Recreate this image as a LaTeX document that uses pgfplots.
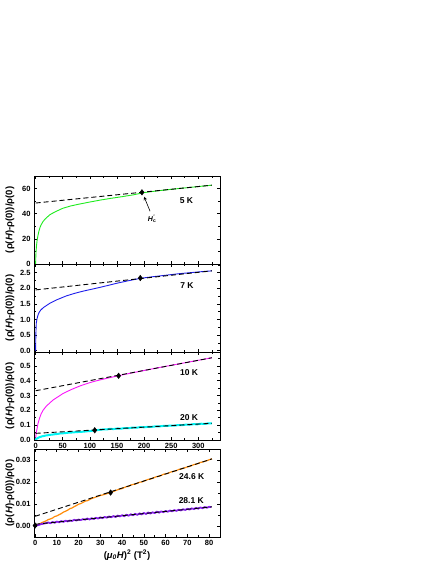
\documentclass[border=0pt]{standalone}
\usepackage{fontspec}
\setmainfont{Liberation Sans}
\usepackage{pgfplots}
\pgfplotsset{compat=1.18}

\definecolor{cgreen}{RGB}{30,235,30}
\definecolor{cblue}{RGB}{30,30,235}
\definecolor{cmag}{RGB}{250,20,250}
\definecolor{ccyan}{RGB}{0,245,245}
\definecolor{corange}{RGB}{255,140,10}
\definecolor{cpurple}{RGB}{135,30,235}

\newcommand{\ylab}{(ρ(\textit{H})-ρ(0))/ρ(0)}

\tikzset{lab/.style={font=\bfseries\fontsize{8.5}{9}\selectfont}}
\pgfplotsset{
  panel/.style={
    scale only axis, width=186pt, height=88pt,
    axis line style={line width=0.9pt},
    tick style={black, line width=0.7pt},
    major tick length=3pt, minor tick length=2.2pt,
    tick align=inside, xtick pos=both, ytick pos=both,
    /pgf/number format/assume math mode=true,
    ticklabel style={font=\bfseries\fontsize{7.5}{8}\selectfont},
    scaled y ticks=false,
    ylabel={\ylab},
    every axis y label/.style={at={(axis description cs:0,0.5)}, xshift=-24pt,
      rotate=90, anchor=center, font=\bfseries\fontsize{9.5}{10}\selectfont},
    every axis x label/.style={at={(axis description cs:0.5,0)}, yshift=-18pt,
      anchor=center, font=\bfseries\fontsize{9.5}{10}\selectfont},
  },
  hx/.style={xmin=-3, xmax=340, xtick={0,50,100,150,200,250,300},
    minor xtick={25,75,125,175,225,275,325}},
  fit/.style={black, line width=0.9pt, dash pattern=on 5pt off 3pt},
  dia/.style={only marks, mark=diamond*, mark size=2.8pt, black},
}

\begin{document}
\begin{tikzpicture}
\useasboundingbox (0,0) rectangle (436pt,564pt);

% 5 K
\begin{axis}[panel, hx, at={(34pt,300pt)}, anchor=south west,
  ymin=0, ymax=70, ytick={0,20,40,60}, minor ytick={10,30,50,70},
  xticklabels={}]
\addplot[cgreen, line width=0.9pt] coordinates {
(0,0)(0.3,5)(0.8,10)(1.5,14)(2.5,18)(4,22)(6,26)(8,29)(10,31)(13.5,33.7)(18,36)
(26,39.1)(35,41.3)(50,44.3)(65,46.2)(80,47.6)(100,49.3)(120,50.9)(140,52.3)
(160,53.6)(180,55)(200,56.8)(225,58.2)(250,59.4)(275,60.5)(300,61.6)(325,62.7)};
\addplot[fit] coordinates {(0,48.5)(325,62.7)};
\addplot[dia] coordinates {(196,57.0)};
\draw[-stealth, line width=0.6pt] (axis cs:211,42) -- (axis cs:200,53.5);
\node[font=\bfseries\fontsize{7}{8}\selectfont] at (axis cs:215,36) {\textit{H}\rlap{\textsuperscript{\textit{'}}}\textsubscript{c}};
\node[lab] at (axis cs:278,50.4) {5 K};
\end{axis}

% 7 K
\begin{axis}[panel, hx, at={(34pt,212pt)}, anchor=south west,
  ymin=-0.04, ymax=2.78, ytick={0,0.5,1,1.5,2,2.5}, minor ytick={0.25,0.75,1.25,1.75,2.25,2.75},
  yticklabel style={/pgf/number format/fixed, /pgf/number format/fixed zerofill, /pgf/number format/precision=1},
  xticklabels={}]
\addplot[cblue, line width=0.9pt] coordinates {
(0,0)(0.2,0.3)(0.5,0.55)(1.2,0.88)(2.5,1.02)(4.3,1.14)(6.5,1.23)(9.3,1.30)(14,1.38)
(20,1.45)(26,1.52)(40,1.64)(57,1.76)(72,1.84)(87.6,1.91)(103,1.97)(118.5,2.03)
(135,2.10)(149,2.16)(170,2.24)(193,2.32)(215,2.37)(240,2.42)(265,2.47)(290,2.51)
(310,2.54)(325,2.56)};
\addplot[fit] coordinates {(0,1.95)(325,2.56)};
\addplot[dia] coordinates {(193,2.33)};
\node[lab] at (axis cs:279,2.1) {7 K};
\end{axis}

% 10 K and 20 K
\begin{axis}[panel, hx, at={(34pt,124pt)}, anchor=south west,
  ymin=0, ymax=0.595, ytick={0,0.1,0.2,0.3,0.4,0.5}, minor ytick={0.05,0.15,0.25,0.35,0.45,0.55},
  yticklabel style={/pgf/number format/fixed, /pgf/number format/fixed zerofill, /pgf/number format/precision=1}]
\addplot[cmag, line width=0.9pt] coordinates {
(0,0)(0.5,0.03)(1.2,0.05)(2.5,0.075)(4.3,0.11)(7,0.145)(10,0.175)(13.5,0.20)(20,0.23)
(32,0.27)(50,0.313)(65,0.34)(81.5,0.365)(100,0.388)(112,0.40)(130,0.416)(152,0.434)
(174,0.451)(200,0.470)(225,0.488)(250,0.505)(275,0.522)(300,0.539)(325,0.556)};
\addplot[ccyan, line width=2pt] coordinates {
(0,0)(1,0.006)(2,0.009)(3,0.011)(4,0.014)(5,0.015)(7,0.019)(9,0.021)(12,0.025)(15,0.027)
(18,0.030)(22,0.032)(26,0.035)(30,0.036)(35,0.039)(40,0.041)(45,0.044)(50,0.045)
(55,0.047)(60,0.049)(65,0.050)(70,0.052)(75,0.053)(81,0.055)(88,0.056)(95,0.059)
(102,0.061)(109,0.065)(116,0.068)(123,0.071)(130,0.071)(137,0.075)(144,0.074)(151,0.078)
(158,0.077)(165,0.081)(172,0.080)(179,0.084)(186,0.083)(193,0.087)(200,0.086)(207,0.089)
(214,0.089)(221,0.092)(228,0.092)(235,0.095)(242,0.095)(249,0.098)(256,0.097)(263,0.101)
(270,0.100)(277,0.104)(284,0.103)(291,0.107)(298,0.106)(305,0.110)(312,0.109)(319,0.113)(325,0.112)};
\addplot[fit] coordinates {(0,0.333)(325,0.556)};
\addplot[fit] coordinates {(0,0.045)(325,0.113)};
\addplot[dia] coordinates {(153,0.434)(109,0.066)};
\node[lab] at (axis cs:283,0.455) {10 K};
\node[lab] at (axis cs:283,0.151) {20 K};
\end{axis}

% 24.6 K and 28.1 K
\begin{axis}[panel, at={(34pt,27pt)}, anchor=south west,
  xmin=-0.5, xmax=85, xtick={0,10,20,30,40,50,60,70,80}, minor xtick={5,15,25,35,45,55,65,75},
  ymin=-0.005, ymax=0.035, ytick={0,0.01,0.02,0.03}, minor ytick={-0.005,0.005,0.015,0.025},
  yticklabel style={/pgf/number format/fixed, /pgf/number format/fixed zerofill, /pgf/number format/precision=2},
  xlabel={(\textit{μ\textsubscript{0}H})\textsuperscript{2} (T\textsuperscript{2})}]
\addplot[corange, line width=1.2pt] coordinates {
(0,0.0000)(1,0.0004)(2,0.0009)(3,0.0015)(4,0.0019)(5,0.0023)(6,0.0029)(7,0.0032)(8,0.0036)
(9,0.0043)(10,0.0046)(11,0.0051)(12,0.0056)(13,0.0063)(14,0.0067)(15,0.0072)(16,0.0079)
(17,0.0082)(18,0.0088)(19,0.0093)(20,0.0099)(21,0.0102)(22,0.0107)(23,0.0113)(24,0.0115)
(25,0.0120)(26,0.0125)(27,0.0128)(28,0.0132)(29,0.0135)(30,0.0139)(31,0.0141)(32,0.0144)
(33,0.0147)(34,0.0150)(35,0.0153)(36,0.0157)(37,0.0161)(38,0.0165)(39,0.0168)(40,0.0170)
(41,0.0175)(42,0.0179)(43,0.0180)(44,0.0186)(45,0.0189)(46,0.0190)(47,0.0195)(48,0.0199)
(49,0.0200)(50,0.0204)(51,0.0208)(52,0.0212)(53,0.0213)(54,0.0217)(55,0.0221)(56,0.0225)
(57,0.0226)(58,0.0230)(59,0.0235)(60,0.0237)(61,0.0239)(62,0.0244)(63,0.0247)(64,0.0249)
(65,0.0252)(66,0.0257)(67,0.0259)(68,0.0262)(69,0.0265)(70,0.0269)(71,0.0271)(72,0.0275)
(73,0.0279)(74,0.0281)(75,0.0284)(76,0.0289)(77,0.0291)(78,0.0294)(79,0.0297)(80,0.0301)(81.3,0.0305)};
\addplot[cpurple, line width=1.8pt] coordinates {
(0,0.0000)(1,0.0003)(2,0.0006)(3,0.0009)(4,0.0011)(5,0.0013)(6,0.0016)(7,0.0013)(8,0.0018)
(9,0.0015)(10,0.0020)(11,0.0017)(12,0.0022)(13,0.0019)(14,0.0024)(15,0.0021)(16,0.0025)
(17,0.0023)(18,0.0028)(19,0.0025)(20,0.0029)(21,0.0027)(22,0.0031)(23,0.0029)(24,0.0034)
(25,0.0030)(26,0.0035)(27,0.0032)(28,0.0037)(29,0.0034)(30,0.0039)(31,0.0036)(32,0.0041)
(33,0.0038)(34,0.0043)(35,0.0040)(36,0.0045)(37,0.0041)(38,0.0047)(39,0.0044)(40,0.0049)
(41,0.0045)(42,0.0051)(43,0.0047)(44,0.0053)(45,0.0049)(46,0.0055)(47,0.0051)(48,0.0057)
(49,0.0053)(50,0.0059)(51,0.0055)(52,0.0061)(53,0.0057)(54,0.0062)(55,0.0059)(56,0.0065)
(57,0.0061)(58,0.0066)(59,0.0063)(60,0.0068)(61,0.0065)(62,0.0070)(63,0.0067)(64,0.0072)
(65,0.0069)(66,0.0074)(67,0.0071)(68,0.0076)(69,0.0073)(70,0.0078)(71,0.0075)(72,0.0080)
(73,0.0077)(74,0.0082)(75,0.0079)(76,0.0084)(77,0.0081)(78,0.0086)(79,0.0083)(80,0.0087)(81,0.0086)};
\addplot[fit] coordinates {(0,0.0044)(81.3,0.0305)};
\addplot[fit] coordinates {(0,0.0008)(81.3,0.0087)};
\addplot[dia] coordinates {(34.7,0.0152)(0,0.0002)};
\node[lab] at (axis cs:72,0.0224) {24.6 K};
\node[lab] at (axis cs:71.8,0.0117) {28.1 K};
\end{axis}
\end{tikzpicture}
\end{document}
